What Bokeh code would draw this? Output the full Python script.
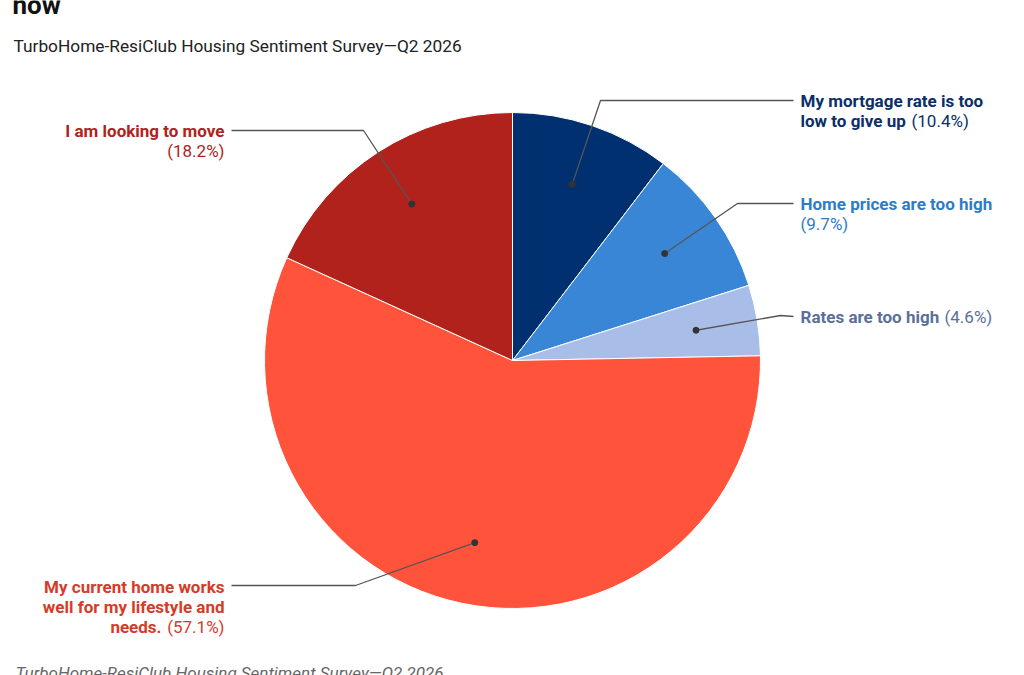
import math
from bokeh.plotting import figure
from bokeh.models import ColumnDataSource
from bokeh.core.properties import value
from bokeh.embed import file_html
from bokeh.resources import INLINE

# Survey answers, clockwise from 12 o'clock
categories = [
    "My mortgage rate is too low to give up",
    "Home prices are too high",
    "Rates are too high",
    "My current home works well for my lifestyle and needs.",
    "I am looking to move",
]
shares = [10.4, 9.7, 4.6, 57.1, 18.2]
slice_colors = ["#013070", "#3a86d6", "#a8bde8", "#ff533b", "#b0221b"]
label_colors = ["#0b2f68", "#2f7cc6", "#5b7099", "#d63b27", "#b0231c"]

W, H = 1024, 675
CX, CY, R = 512, H - 360, 248
FONT = value("Roboto")


def Y(y):
    # layout positions are given from the top edge of the page
    return H - y


p = figure(width=W, height=H, x_range=(0, W), y_range=(0, H),
           min_border=0, toolbar_location=None, output_backend="svg")
p.axis.visible = False
p.grid.visible = False
p.outline_line_color = None
p.background_fill_color = "white"

total = sum(shares)
starts, ends, mids = [], [], []
acc = 0.0
for v in shares:
    a0 = math.pi / 2 - 2 * math.pi * acc / total
    acc += v
    a1 = math.pi / 2 - 2 * math.pi * acc / total
    starts.append(a0)
    ends.append(a1)
    mids.append((a0 + a1) / 2)

src = ColumnDataSource(dict(start=starts, end=ends, color=slice_colors,
                            cat=categories, share=shares))
p.wedge(x=CX, y=CY, radius=R, start_angle="start", end_angle="end",
        direction="clock", fill_color="color", line_color="white",
        line_width=1, source=src)

# leader lines: anchor dot inside each slice -> elbow -> label
dot_x = [CX + 0.75 * R * math.cos(m) for m in mids]
dot_y = [CY + 0.75 * R * math.sin(m) for m in mids]
elbows = [(600, 100), (737, 203), (780, 315), (355, 585), (363, 130)]
ends_x = [793, 793, 793, 231, 231]
end_y = [100, 203, 316, 585, 130]
for i in range(len(shares)):
    ex, ey = elbows[i]
    p.line([dot_x[i], ex, ends_x[i]], [dot_y[i], Y(ey), Y(end_y[i])],
           line_color="#555555", line_width=1.3)
p.scatter(dot_x, dot_y, size=6, fill_color="#333333", line_color="#333333")


def txt(x, y, s, color, bold=True, align="left", size="17px", style=None):
    if style is None:
        style = "bold" if bold else "normal"
    p.text(x=[x], y=[Y(y)], text=[s], text_font=FONT,
           text_font_style=style, text_font_size=size, text_color=color,
           text_align=align, text_baseline="middle")


pct = [f"({v}%)" for v in shares]

# right-hand labels
txt(800, 100, "My mortgage rate is too", label_colors[0])
txt(800, 120, "low to give up", label_colors[0])
txt(911, 120, pct[0], label_colors[0], bold=False)

txt(800, 203, "Home prices are too high", label_colors[1])
txt(800, 223, pct[1], label_colors[1], bold=False)

txt(800, 316, "Rates are too high", label_colors[2])
txt(944, 316, pct[2], label_colors[2], bold=False)

# left-hand labels
txt(224, 130, "I am looking to move", label_colors[4], align="right")
txt(224, 150, pct[4], label_colors[4], bold=False, align="right")

txt(224, 586, "My current home works", label_colors[3], align="right")
txt(224, 606, "well for my lifestyle and", label_colors[3], align="right")
txt(161, 626, "needs.", label_colors[3], align="right")
txt(224, 626, pct[3], label_colors[3], bold=False, align="right")

# heading, subtitle and source line
txt(12, 4, "now", "#111111", size="26px")
txt(13, 45, "TurboHome-ResiClub Housing Sentiment Survey\u2014Q2 2026",
    "#222222", bold=False, size="17.3px")
txt(15, 672, "TurboHome-ResiClub Housing Sentiment Survey\u2014Q2 2026",
    "#666666", size="17px", style="italic")

open("out.html", "w").write(file_html(p, INLINE))
